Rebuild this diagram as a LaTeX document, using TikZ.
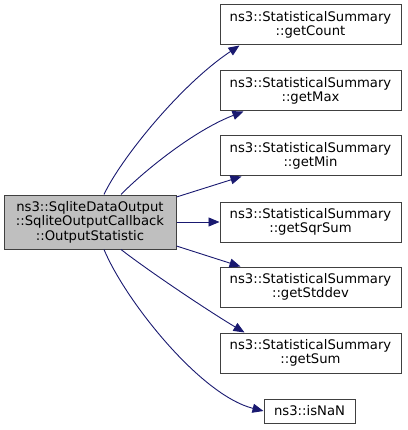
\documentclass[tikz,border=0pt]{standalone}
\usepackage{fontspec}
\setmainfont{DejaVu Sans}
\usetikzlibrary{arrows.meta,calc}
\definecolor{edgeblue}{HTML}{191970}
\definecolor{boxline}{HTML}{404040}
\definecolor{mainfill}{HTML}{BFBFBF}
\begin{document}
\begin{tikzpicture}[x=1pt,y=-1pt,
  fnbox/.style={draw=boxline,line width=1pt,fill=white,rectangle,inner sep=0pt,
    minimum width=181pt,minimum height=40pt,align=center,
    font=\fontsize{13.2pt}{14.5pt}\selectfont},
  mainbox/.style={fnbox,fill=mainfill,minimum width=172pt,minimum height=54pt},
  call/.style={draw=edgeblue,line width=0.9pt,-{Triangle[length=11pt,width=9pt]}}]
\useasboundingbox (0,0) rectangle (407,430);
\node[mainbox] (src) at (90,222) {ns3::SqliteDataOutput\\::SqliteOutputCallback\\::OutputStatistic};
\node[fnbox] (cnt) at (310.5,25) {ns3::StatisticalSummary\\::getCount};
\node[fnbox] (max) at (310.5,91) {ns3::StatisticalSummary\\::getMax};
\node[fnbox] (min) at (310.5,156) {ns3::StatisticalSummary\\::getMin};
\node[fnbox] (sqr) at (310.5,222) {ns3::StatisticalSummary\\::getSqrSum};
\node[fnbox] (std) at (310.5,287) {ns3::StatisticalSummary\\::getStddev};
\node[fnbox] (sum) at (310.5,353) {ns3::StatisticalSummary\\::getSum};
\node[fnbox,minimum width=91pt,minimum height=24pt] (nan) at (309.5,411) {ns3::isNaN};
\draw[call] ([xshift=14pt]src.north) .. controls (120,160) and (180,85) .. ([xshift=20pt]cnt.south west);
\draw[call] ([xshift=31pt]src.north) .. controls (145,170) and (195,130) .. ([xshift=24pt]max.south west);
\draw[call] ([yshift=25pt]src.east) -- ([xshift=22pt]min.south west);
\draw[call] (src.east) -- (sqr.west);
\draw[call] ([yshift=-24pt]src.east) -- ([xshift=21pt]std.north west);
\draw[call] ([xshift=31pt]src.south) .. controls (150,272) and (210,312) .. ([xshift=25pt]sum.north west);
\draw[call] ([xshift=14pt]src.south) .. controls (125,300) and (200,395) .. (nan.west);
\end{tikzpicture}
\end{document}
